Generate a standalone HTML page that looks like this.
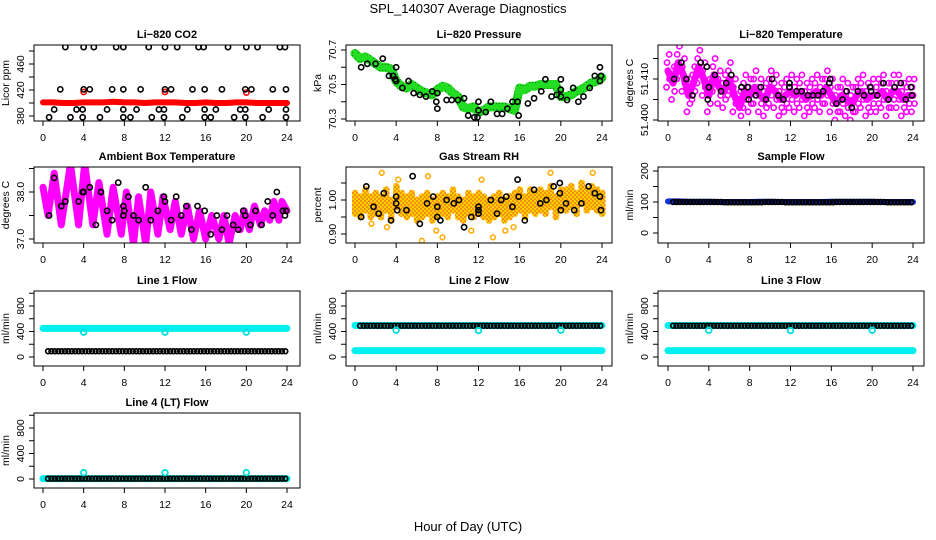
<!DOCTYPE html>
<html><head><meta charset="utf-8">
<style>
body{margin:0;background:#fff;}
svg{display:block;font-family:"Liberation Sans",sans-serif;}
.tt{font-weight:bold;font-size:11px;text-anchor:middle;}
.tk{font-size:10.5px;text-anchor:middle;}
</style></head>
<body>
<svg id="chart" width="936" height="540" viewBox="0 0 936 540" xmlns="http://www.w3.org/2000/svg">
<defs>
<pattern id="rhpat" width="4" height="4" patternUnits="userSpaceOnUse"><rect width="4" height="4" fill="#ffcc00"/><circle cx="1" cy="1" r="0.8" fill="#e8501a"/><circle cx="3" cy="3" r="0.8" fill="#e8501a"/></pattern>
<pattern id="grpat" width="3" height="3" patternUnits="userSpaceOnUse"><rect width="3" height="3" fill="#22dd22"/><circle cx="1.5" cy="1.5" r="0.6" fill="#117711"/></pattern>
</defs>
<text x="468" y="13" text-anchor="middle" font-size="13">SPL_140307  Average Diagnostics</text>
<text x="468" y="531" text-anchor="middle" font-size="13">Hour of Day (UTC)</text>
</svg>
<script>
// ---- data ----
const hourTicks = [0,4,8,12,16,20,24];
const co2RedHourly = [401,401,400,400,401,401,401,402,401,401,400,401,401,401,400,400,401,400,400,401,401,400,400,400,400];
const co2RedOutT = [4,12,20];
const co2RedOutV = [417,417,416];
const co2BlackT = [2.2,4,5,7.2,7.9,10.4,12,13.2,15.3,15.8,18.2,20,21.1,23.3,23.8, 1.7,4,4.6,6.8,7.9,9.6,12,12.6,14.7,15.9,17.6,19.9,20.5,22.6,23.9, 1.1,3.3,3.9,6.3,7.9,9.2,11.4,11.9,14.2,15.9,17,19.4,19.9,22.2,23.9, 0.6,2.7,3.9,5.6,7.9,8.6,10.7,11.9,13.7,15.9,16.5,18.8,19.9,21.6,23.9];
const co2BlackV = [486,486,486,486,486,486,486,486,486,486,486,486,486,486,486, 421,421,421,421,421,421,421,421,421,421,421,421,421,421,421, 390,390,390,390,390,390,390,390,390,390,390,390,390,390,390, 378,378,378,378,378,378,378,378,378,378,378,378,378,378,378];
const pressHalfHour = [70.68,70.65,70.66,70.64,70.62,70.60,70.60,70.59,70.52,70.49,70.48,70.50,70.48,70.46,70.45,70.44,70.47,70.49,70.48,70.45,70.43,70.37,70.36,70.37,70.34,70.35,70.37,70.37,70.37,70.37,70.36,70.35,70.48,70.47,70.49,70.49,70.50,70.50,70.50,70.50,70.43,70.43,70.44,70.46,70.47,70.49,70.51,70.52,70.54];
const pressBlackT = [0.6,1.2,2,2.7,3.3,3.7,4,4,3.9,4.6,5.2,5.7,6.3,6.9,7.5,8,7.9,8,8.9,9.4,10,10.6,11,11.6,11.9,12,12,12.7,13.2,13.8,14.3,14.8,15.3,15.8,15.9,16.8,17.4,18.1,18.5,19.1,19.6,20,20,20,20.6,21.2,21.7,22.2,22.8,23.3,23.8,23.8,23.9];
const pressBlackV = [70.60,70.62,70.62,70.65,70.55,70.55,70.60,70.52,70.53,70.48,70.52,70.45,70.44,70.43,70.46,70.45,70.40,70.36,70.41,70.41,70.41,70.42,70.32,70.31,70.31,70.40,70.35,70.34,70.40,70.33,70.33,70.36,70.40,70.40,70.32,70.39,70.42,70.46,70.53,70.43,70.44,70.47,70.43,70.53,70.41,70.48,70.40,70.43,70.48,70.55,70.60,70.52,70.55];
const ltempHalfHour = [51.412,51.409,51.414,51.411,51.406,51.409,51.413,51.410,51.406,51.411,51.408,51.407,51.410,51.406,51.403,51.407,51.406,51.408,51.406,51.405,51.408,51.407,51.405,51.406,51.407,51.406,51.407,51.405,51.406,51.407,51.406,51.408,51.406,51.404,51.406,51.405,51.404,51.406,51.407,51.405,51.406,51.406,51.407,51.405,51.407,51.407,51.405,51.406,51.406];
const ltempBlackT = [0.6,1.3,1.8,2.4,3.2,3.8,3.9,4,4.6,5.2,5.7,6.2,7.2,7.8,7.9,8.6,9.1,9.6,10.2,10.8,11.3,11.9,11.9,12.6,13.1,13.7,14.2,14.7,15.2,15.8,15.9,16.5,17.1,17.5,18,18.6,19.2,19.8,19.9,20.5,21.1,21.6,22.2,22.8,23.3,23.8,23.9];
const ltempBlackV = [51.410,51.414,51.410,51.406,51.414,51.413,51.405,51.408,51.411,51.407,51.409,51.411,51.408,51.408,51.405,51.406,51.408,51.405,51.410,51.406,51.405,51.409,51.408,51.407,51.407,51.406,51.406,51.406,51.407,51.409,51.410,51.404,51.405,51.407,51.403,51.407,51.406,51.408,51.407,51.406,51.409,51.405,51.408,51.409,51.405,51.408,51.406];
const ambT = [0,0.5,1.1,1.8,2.7,3.5,4.1,4.9,5.5,6.3,6.9,7.7,8.2,8.9,9.4,10.1,10.6,11.3,11.8,12.5,13.0,13.6,14.2,14.8,15.4,16.0,16.6,17.3,17.8,18.3,18.9,19.4,19.8,20.3,20.8,21.4,21.8,22.3,22.7,23.2,23.5,24];
const ambV = [38.1,37.5,38.4,37.3,38.6,37.3,38.6,37.3,38.2,37.1,38.1,37.1,38.0,36.9,37.9,36.9,38.0,37.1,37.9,37.2,37.8,37.1,37.7,37.0,37.6,37.0,37.5,37.0,37.5,36.9,37.5,37.2,37.6,37.2,37.7,37.3,37.6,37.4,37.8,37.4,37.8,37.6];
const ambBlackT = [0.6,1.1,1.8,2.2,2.8,3.5,3.9,4,4.6,5.2,5.7,6.3,6.8,7.4,7.9,7.9,8,8.4,8.9,9.4,10.1,10.6,11.3,11.9,12,12.6,13.1,13.6,14.1,14.6,15.2,15.9,16.5,17.1,17.6,18.1,18.7,19.2,19.7,19.9,20.4,20.9,21.5,22.1,22.6,23.0,23.6,23.8,23.9];
const ambBlackV = [37.5,38.3,37.7,37.8,38.6,37.8,38.0,38.0,38.1,37.3,38.0,37.6,37.4,38.2,37.7,37.5,37.6,37.9,37.5,37.4,38.1,37.4,37.6,37.9,37.8,37.4,37.9,37.5,37.7,37.2,37.7,37.6,37.1,37.5,37.2,37.5,37.3,37.2,37.6,37.5,37.3,37.6,37.3,37.8,37.5,38.0,37.6,37.5,37.6];
const rhHalfHour = [0.99,0.98,1.00,0.98,0.99,0.98,1.00,0.97,1.01,0.99,0.98,0.99,0.97,0.98,0.99,0.97,0.98,0.99,0.98,1.00,0.98,0.97,0.99,0.98,0.99,0.98,0.97,0.98,0.99,0.97,0.98,0.99,1.00,0.98,1.00,0.99,1.00,0.99,1.01,0.98,1.00,1.00,1.01,0.99,1.02,1.00,1.01,1.00,0.99];
const rhOutT = [2.6,4.2,6.5,7.1,7.9,8.5,11.3,12.3,13.4,14.6,15.4,19.0,23.1,3.1,1.6];
const rhOutV = [1.08,1.06,0.88,1.07,0.91,0.89,0.91,1.06,0.89,0.91,0.92,1.08,1.08,0.92,0.93];
const rhBlackT = [0.6,1.1,1.8,2.3,2.8,3.5,4,4,4.1,5.0,5.6,6.3,7.0,7.6,8.0,8.0,8.3,8.9,9.6,10.1,10.6,11.3,12,12,12,13.2,13.8,14.2,14.7,15.3,15.8,15.9,16.5,17.4,18.0,18.6,19.3,19.9,19.9,20.0,20.5,21.3,22.0,22.7,23.3,23.8,23.9];
const rhBlackV = [0.95,1.04,0.98,0.96,1.02,0.94,1.01,0.99,0.97,0.97,1.07,0.93,0.99,1.01,0.98,0.95,0.94,1.00,0.99,1.00,0.92,0.95,0.98,0.97,0.96,1.00,0.96,1.00,1.01,0.98,1.06,1.01,0.94,1.03,0.99,1.00,1.04,1.05,1.02,0.97,0.99,0.97,0.99,1.04,1.02,1.01,0.97];
const sampleHourly = [102,102,101,101,101,100,100,100,100,101,101,100,100,100,100,100,101,101,101,101,101,100,100,100,100];
const sampleBlackHourly = [100,100,100,100,100,99,99,99,99,100,100,99,99,99,99,99,100,100,100,100,100,99,99,99,99];
const line1CyanHourly = [450,450,450,450,450,450,450,450,450,450,450,450,450,450,450,450,450,450,450,450,450,450,450,450,450];
const line1BlackHourly = [90,90,90,90,90,90,90,90,90,90,90,90,90,90,90,90,90,90,90,90,90,90,90,90,90];
const line1OutV = [390,390,390];
const line2CyanHighHourly = [495,495,495,495,495,495,495,495,495,495,495,495,495,495,495,495,495,495,495,495,495,495,495,495,495];
const line2CyanLowHourly = [100,100,100,100,100,100,100,100,100,100,100,100,100,100,100,100,100,100,100,100,100,100,100,100,100];
const line2BlackHourly = [490,490,490,490,490,490,490,490,490,490,490,490,490,490,490,490,490,490,490,490,490,490,490,490,490];
const line2OutV = [420,415,420];
const line4CyanHourly = [5,5,5,5,5,5,5,5,5,5,5,5,5,5,5,5,5,5,5,5,5,5,5,5,5];
const line4BlackHourly = [5,5,5,5,5,5,5,5,5,5,5,5,5,5,5,5,5,5,5,5,5,5,5,5,5];
const line4OutV = [100,100,100];
const flowOutT = [4,12,20];

// ---- drawing ----
const svg = document.getElementById('chart');
const NS = 'http://www.w3.org/2000/svg';
function el(tag, attrs, parent){const e=document.createElementNS(NS,tag);for(const k in attrs)e.setAttribute(k,attrs[k]);(parent||svg).appendChild(e);return e;}
function lin(d0,d1,p0,p1){return v=>p0+(v-d0)*(p1-p0)/(d1-d0);}

function panel(name,title,box,xp,ym,yl,ticks,labels,labelFmt){
  const g=el('g',{});
  
  
  const [x0,y0,x1,y1]=box;
  const X=lin(0,24,xp[0],xp[1]);
  const Y=lin(ym[0],ym[1],ym[2],ym[3]);
  const t=el('text',{x:(x0+x1)/2,y:y0-7,class:'tt'},g);t.textContent=title;
  
  
  const plot=el('g',{},g);
  
  
  hourTicks.forEach(h=>{
    el('line',{x1:X(h),x2:X(h),y1:y1,y2:y1+5,stroke:'#000'},g);
    const tx=el('text',{x:X(h),y:y1+20,class:'tk'},g);tx.textContent=h;
    
    
  });
  const tkx = x0-13;
  ticks.forEach(v=>{el('line',{x1:x0-5,x2:x0,y1:Y(v),y2:Y(v),stroke:'#000'},g);});
  labels.forEach(v=>{
    const tx=el('text',{x:tkx,y:Y(v),class:'tk',transform:`rotate(-90 ${tkx} ${Y(v)})`,'dominant-baseline':'middle'},g);
    tx.textContent=labelFmt?labelFmt(v):v;
    
    
  });
  const yt=el('text',{x:x0-25,y:(y0+y1)/2,'font-size':'10.5','text-anchor':'middle',transform:`rotate(-90 ${x0-25} ${(y0+y1)/2})`},g);
  yt.textContent=yl;
  
  
  const clip='c'+name;
  const cp=el('clipPath',{id:clip},g);el('rect',{x:x0,y:y0,width:x1-x0,height:y1-y0},cp);
  plot.setAttribute('clip-path','url(#'+clip+')');
  return {g,plot,X,Y,finish:()=>el('rect',{x:x0,y:y0,width:x1-x0,height:y1-y0,fill:'none',stroke:'#000','stroke-width':1},g)};
}
function circ(p,x,y,col,r,sw){return el('circle',{cx:x,cy:y,r:r||2.6,fill:'none',stroke:col,'stroke-width':sw||1.6},p);}
function band(P,vals,step,col,w,name){
  const pts=vals.map((v,i)=>P.X(i*step)+','+P.Y(v)).join(' ');
  const l=el('polyline',{points:pts,fill:'none',stroke:col,'stroke-width':w,'stroke-linejoin':'round','stroke-linecap':'round'},P.plot);
  
  
}
function hourlyDots(P,vals,col,perHour,start){
  vals.forEach((v,h)=>{ if(h>=24)return; for(let k=0;k<perHour;k++){const t=h+k/perHour+(start||0); if(t<=24) circ(P.plot,P.X(t),P.Y(v),col,2.4,1.7);} });
}

const rowY=[[45,121],[167,243],[291,366],[413,488]];
const colX=[[34,300,43,287],[346,612,355,602],[658,924,668,913]];
function bx(r,c){return [colX[c][0],rowY[r][0],colX[c][1],rowY[r][1]];}
function xp(c){return [colX[c][2],colX[c][3]];}

// Panel 1 CO2
let P=panel('co2','Li−820 CO2',bx(0,0),xp(0),[380,460,116,64],'Licor ppm',[380,400,420,440,460,480],[380,420,460]);
band(P,co2RedHourly,1,'#ff0000',6,'co2-red-series');
co2RedOutT.forEach((t,i)=>circ(P.plot,P.X(t),P.Y(co2RedOutV[i]),'#ff0000'));
co2BlackT.forEach((t,i)=>circ(P.plot,P.X(t),P.Y(co2BlackV[i]),'#000'));
P.finish();

// Panel 2 pressure
P=panel('pressure','Li−820 Pressure',bx(0,1),xp(1),[70.3,70.7,119,50],'kPa',[70.3,70.4,70.5,70.6,70.7],[70.3,70.5,70.7],v=>v.toFixed(1));
band(P,pressHalfHour,0.5,'url(#grpat)',9,'pressure-green-series');
band(P,pressHalfHour,0.5,'#22dd22',5,'pressure-green-core');
pressBlackT.forEach((t,i)=>circ(P.plot,P.X(t),P.Y(pressBlackV[i]),'#000'));
P.finish();

// Panel 3 Li temp
P=panel('li-temp','Li−820 Temperature',bx(0,2),xp(2),[51.400,51.410,120,79],'degrees C',[51.400,51.405,51.410,51.415],[51.400,51.410],v=>v.toFixed(3));
band(P,ltempHalfHour,0.5,'#ff00ff',7,'li-temp-magenta-series');
ltempHalfHour.forEach((v,i)=>{
  const x=P.X(i*0.5);
  [[-0.004,-1.5],[-0.002,1.5],[0.002,-1],[0.004,1.2]].forEach(([d,dx])=>circ(P.plot,x+dx,P.Y(v+d),'#ff00ff',2.6,1.6));
});
ltempBlackT.forEach((t,i)=>circ(P.plot,P.X(t),P.Y(ltempBlackV[i]),'#000'));
P.finish();

// Panel 4 ambient
P=panel('ambient','Ambient Box Temperature',bx(1,0),xp(0),[37,38,239,192],'degrees C',[37,37.5,38,38.5],[37,38],v=>v.toFixed(1));
const ambPts=ambT.map((t,i)=>P.X(t)+','+P.Y(ambV[i])).join(' ');
const al=el('polyline',{points:ambPts,fill:'none',stroke:'#ff00ff','stroke-width':7,'stroke-linejoin':'round','stroke-linecap':'round'},P.plot);


ambBlackT.forEach((t,i)=>circ(P.plot,P.X(t),P.Y(ambBlackV[i]),'#000'));
P.finish();

// Panel 5 RH
P=panel('rh','Gas Stream RH',bx(1,1),xp(1),[0.9,1.0,234,200],'percent',[0.90,0.95,1.00,1.05],[0.90,1.00],v=>v.toFixed(2));
rhHalfHour.forEach((v,i)=>{const x=P.X(i*0.5);const m=el('rect',{x:x-3,y:P.Y(v+0.04),width:6.5,height:P.Y(v-0.04)-P.Y(v+0.04),rx:3,fill:'url(#rhpat)'},P.plot);
  
  });
rhOutT.forEach((t,i)=>circ(P.plot,P.X(t),P.Y(rhOutV[i]),'#ffaa00',2.4,1.5));
rhBlackT.forEach((t,i)=>circ(P.plot,P.X(t),P.Y(rhBlackV[i]),'#000'));
P.finish();

// Panel 6 sample flow
P=panel('sample-flow','Sample Flow',bx(1,2),xp(2),[0,200,233,171],'ml/min',[0,50,100,150,200],[0,100,200]);
band(P,sampleHourly,1,'#1030e0',6,'sample-flow-blue-series');
hourlyDots(P,sampleBlackHourly,'#000',3,0.5);
P.finish();

function flowPanel(name,title,r,c,cyanArrs,blackArr,outV){
  const ry=rowY[r];
  const P=panel(name,title,bx(r,c),xp(c),[0,800,ry[0]+66,ry[0]+15],'ml/min',[0,200,400,600,800,1000],[0,400,800]);
  cyanArrs.forEach((a,k)=>band(P,a,1,'#00f0f0',7,name+'-cyan-series-'+k));
  hourlyDots(P,blackArr,'#000',3,0.5);
  flowOutT.forEach((t,i)=>circ(P.plot,P.X(t),P.Y(outV[i]),'#00e0e0',2.8,1.8));
  P.finish();
}
flowPanel('line1-flow','Line 1 Flow',2,0,[line1CyanHourly],line1BlackHourly,line1OutV);
flowPanel('line2-flow','Line 2 Flow',2,1,[line2CyanHighHourly,line2CyanLowHourly],line2BlackHourly,line2OutV);
flowPanel('line3-flow','Line 3 Flow',2,2,[line2CyanHighHourly,line2CyanLowHourly],line2BlackHourly,line2OutV);
flowPanel('line4-flow','Line 4 (LT) Flow',3,0,[line4CyanHourly],line4BlackHourly,line4OutV);
</script>
</body></html>
